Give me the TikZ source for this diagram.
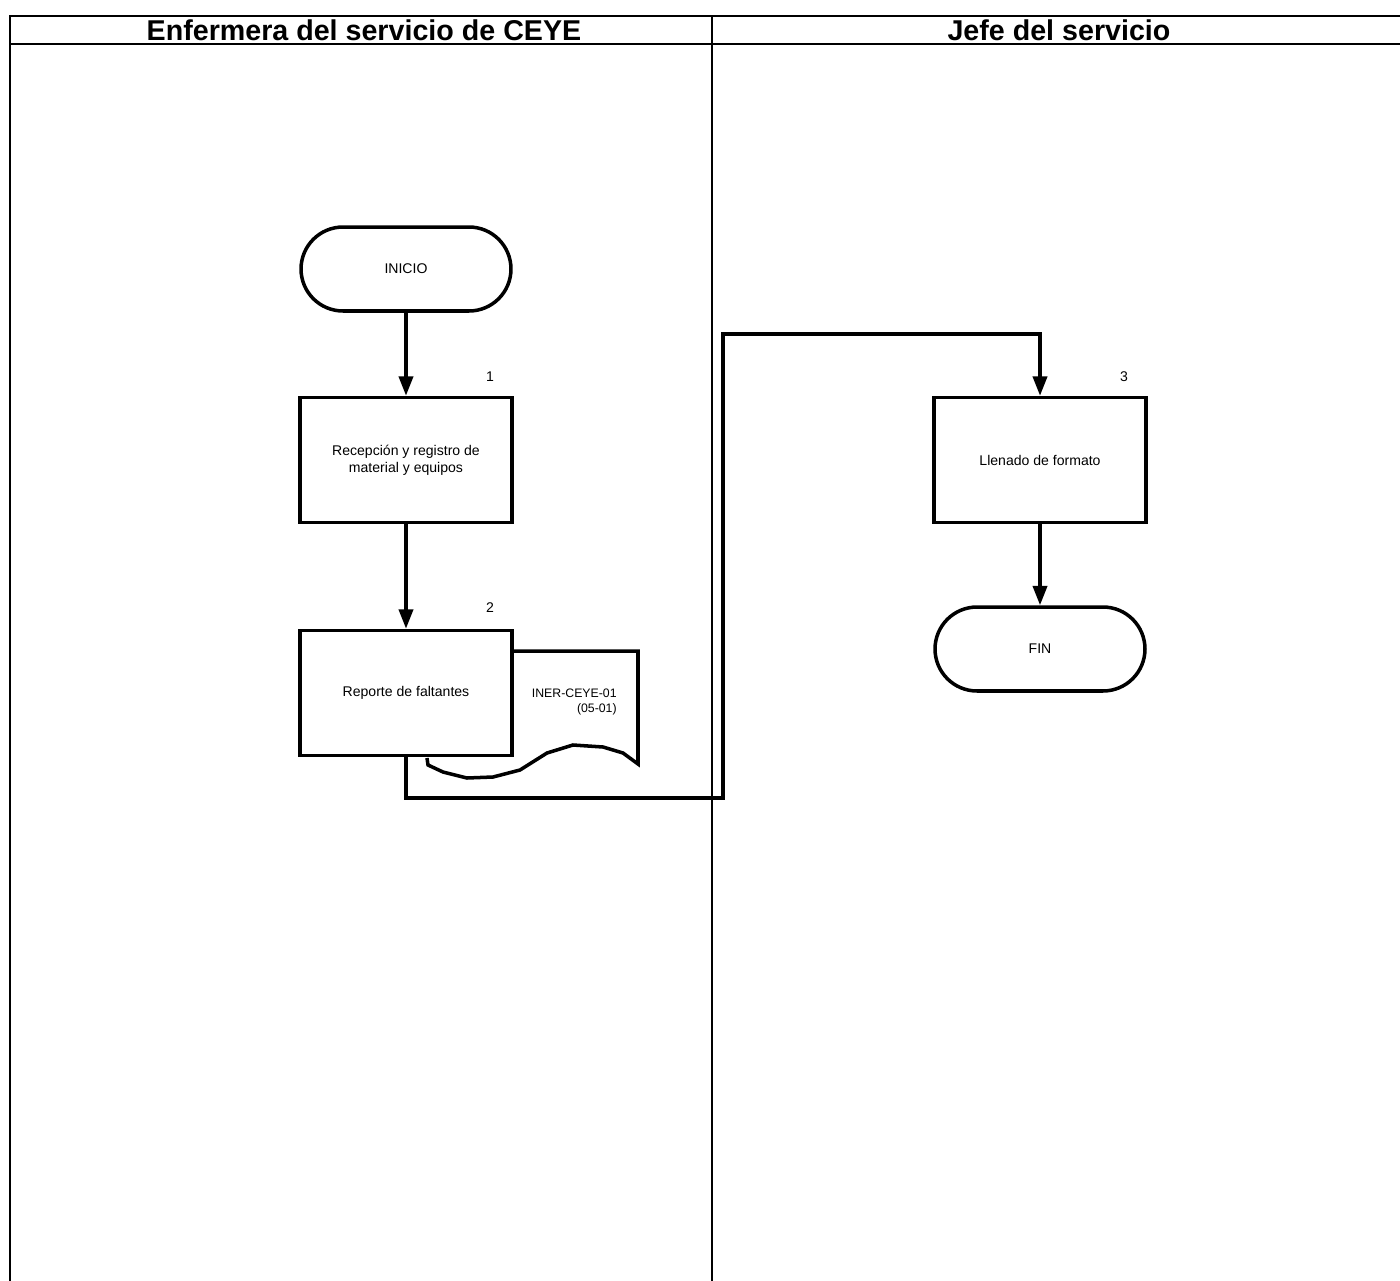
\documentclass[tikz,border=0pt]{standalone}
\usepackage{fontspec}
\setmainfont{Liberation Sans}
\usetikzlibrary{arrows.meta,positioning}
\tikzset{
  proceso/.style={draw, line width=2pt, minimum width=4.24cm, minimum height=2.5cm,
    align=center, inner sep=0pt, font=\fontsize{8}{9.5}\selectfont},
  terminal/.style={draw, line width=2pt, minimum width=4.2cm, minimum height=1.68cm,
    rounded corners=0.84cm, font=\fontsize{8}{9.5}\selectfont},
  flujo/.style={line width=2pt, -{Triangle[length=11pt,width=8pt]}},
  num/.style={font=\fontsize{8}{9.5}\selectfont},
  carril/.style={line width=1.2pt},
  titulo/.style={font=\bfseries\fontsize{16.3}{18}\selectfont}
}
\begin{document}
\begin{tikzpicture}[x=0.02cm,y=-0.02cm]
    \useasboundingbox (0,0) rectangle (1400,1281);
    % carriles
    \draw[carril] (10,1281) -- (10,16) -- (1400,16);
    \draw[carril] (10,44) -- (1400,44);
    \draw[carril] (712,16) -- (712,1281);
    \node[titulo] (carrilA) at (364,30) {Enfermera del servicio de CEYE};
    \node[titulo] (carrilB) at (1059,30) {Jefe del servicio};
    % actividades
    \node[terminal] (inicio) at (406,269) {INICIO};
    \node[proceso] (p1) at (406,460) {Recepción y registro de\\material y equipos};
    \node[proceso] (p2) at (406,693) {Reporte de faltantes};
    \node[proceso] (p3) at (1040,460) {Llenado de formato};
    \node[terminal] (fin) at (1040,649) {FIN};
    \node[num] (n1) at (490,377) {1};
    \node[num] (n2) at (490,608) {2};
    \node[num] (n3) at (1124,377) {3};
    % documento
    \draw[line width=2pt] (p2.north east |- 0,651) -- (638,651) -- (638,764) -- (623,753)
      -- (603,747) -- (573,745) -- (547,753) -- (520,770) -- (493,777) -- (467,778)
      -- (443,772) -- (428,765) -- (427,758);
    \node[num, font=\fontsize{7}{8.5}\selectfont, align=right, anchor=east, inner sep=0pt]
      (doc) at (617,702) {INER-CEYE-01\\(05-01)};
    % flujo
    \coordinate (c1) at (723,798);
    \coordinate (c2) at (723,334);
    \draw[flujo] (inicio) -- (p1);
    \draw[flujo] (p1) -- (p2);
    \draw[flujo] (p2.south) |- (c1) -- (c2) -| (p3.north);
    \draw[flujo] (p3) -- (fin);
\end{tikzpicture}
\end{document}
